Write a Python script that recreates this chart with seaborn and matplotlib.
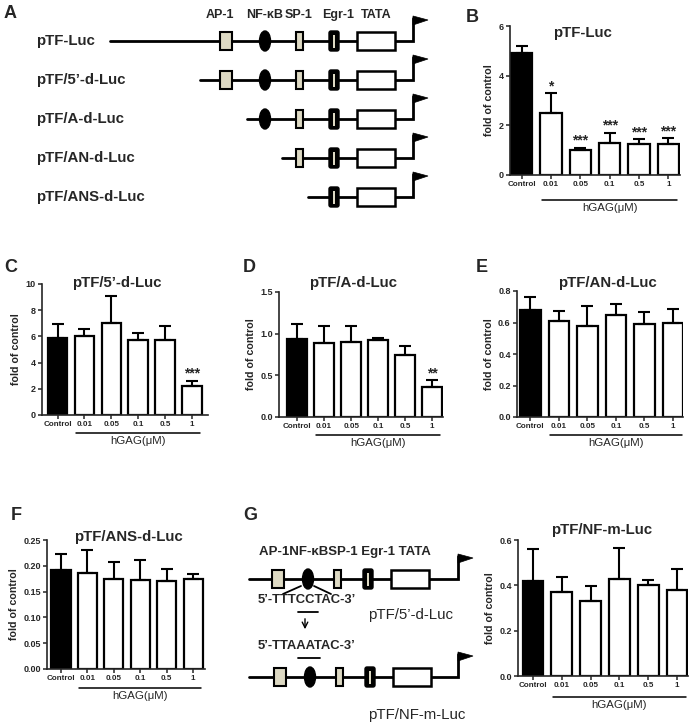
import numpy as np
import pandas as pd
import matplotlib
matplotlib.use("Agg")
import matplotlib.pyplot as plt
import matplotlib.transforms as mtrans
from matplotlib.patches import Rectangle, Ellipse, FancyBboxPatch, Polygon
import seaborn as sns

W, H = 697, 726

# ---- data ----
doses = ["Control", "0.01", "0.05", "0.1", "0.5", "1"]

b_mean = [4.9, 2.5, 1.0, 1.3, 1.25, 1.25]
b_err = [0.3, 0.8, 0.1, 0.4, 0.2, 0.23]
b_sig = ["", "*", "***", "***", "***", "***"]

c_mean = [5.9, 6.0, 7.0, 5.7, 5.75, 2.2]
c_err = [1.05, 0.6, 2.1, 0.55, 1.05, 0.4]
c_sig = ["", "", "", "", "", "***"]

d_mean = [0.93, 0.89, 0.90, 0.92, 0.75, 0.36]
d_err = [0.19, 0.20, 0.19, 0.03, 0.10, 0.08]
d_sig = ["", "", "", "", "", "**"]

e_mean = [0.68, 0.61, 0.575, 0.65, 0.59, 0.595]
e_err = [0.08, 0.06, 0.13, 0.07, 0.075, 0.09]
e_sig = [""] * 6

f_mean = [0.192, 0.186, 0.175, 0.173, 0.170, 0.175]
f_err = [0.030, 0.045, 0.032, 0.039, 0.024, 0.010]
f_sig = [""] * 6

g_mean = [0.42, 0.37, 0.33, 0.43, 0.40, 0.38]
g_err = [0.14, 0.065, 0.065, 0.135, 0.025, 0.09]
g_sig = [""] * 6

a_constructs = ["pTF-Luc", "pTF/5\u2019-d-Luc", "pTF/A-d-Luc", "pTF/AN-d-Luc", "pTF/ANS-d-Luc"]
a_starts = [110, 200, 247, 282, 308]
elements = ["AP-1", "NF-\u03baB", "SP-1", "Egr-1", "TATA"]
a_elem_pos = [226, 265, 299, 334, 376]
g_elem_pos = [278, 308, 337, 368, 410]

seq_wt = "5\u2019-TTTCCTAC-3\u2019"
seq_mut = "5\u2019-TTAAATAC-3\u2019"

# ---- style ----
sns.set_style("ticks")
plt.rcParams["font.family"] = ["Liberation Sans", "DejaVu Sans"]
plt.rcParams["axes.linewidth"] = 1.2

fig = plt.figure(figsize=(W / 100, H / 100), dpi=100)
bg = fig.add_axes([0, 0, 1, 1])
bg.set_xlim(0, W)
bg.set_ylim(H, 0)
bg.axis("off")

beige = "#ddd9c3"


def draw_element(ax, name, x, y):
    if name == "AP-1":
        ax.add_patch(Rectangle((x - 6, y - 9), 12, 18, fc=beige, ec="black", lw=1.5, zorder=3))
    elif name.startswith("NF"):
        ax.add_patch(Ellipse((x, y), 11, 20, fc="black", ec="black", zorder=3))
    elif name == "SP-1":
        ax.add_patch(Rectangle((x - 3.5, y - 9), 7, 18, fc=beige, ec="black", lw=1.5, zorder=3))
    elif name == "Egr-1":
        ax.add_patch(FancyBboxPatch((x - 3.5, y - 8.5), 7, 17, boxstyle="round,pad=1.5,rounding_size=2",
                                    fc="black", ec="black", zorder=3))
        ax.add_patch(Rectangle((x - 1.2, y - 6.5), 2.4, 13, fc=beige, ec="none", zorder=4))
    else:
        ax.add_patch(Rectangle((x - 19, y - 9), 38, 18, fc="white", ec="black", lw=1.8, zorder=3))


def draw_construct(ax, start, end, y, names, pos):
    ax.plot([start, end, end], [y, y, y - 23], color="black", lw=2, zorder=2,
            solid_joinstyle="miter")
    ax.add_patch(Polygon([(end, y - 25), (end + 15, y - 21), (end, y - 16)], closed=True,
                         fc="black", ec="black", lw=0.5, zorder=3))
    for n, p in zip(names, pos):
        if p > start:
            draw_element(ax, n, p, y)


# ---- panel A ----
bg.text(4, 13, "A", fontsize=13, fontweight="bold", va="center")
for n, p in zip(elements, a_elem_pos):
    bg.text(p - 6 if n == "AP-1" else p + (4 if n == "Egr-1" else 0), 15, n,
            fontsize=9, fontweight="bold", ha="center", va="center")
for i, (lab, st) in enumerate(zip(a_constructs, a_starts)):
    y = 41 + 39 * i
    bg.text(36, y, lab, fontsize=10.8, fontweight="bold", va="center")
    draw_construct(bg, st, 413, y, elements, a_elem_pos)

# ---- panel G diagram ----
bg.text(243, 515, "G", fontsize=13, fontweight="bold", va="center")
bg.text(259, 552, "AP-1NF-\u03baBSP-1 Egr-1 TATA", fontsize=9.5, fontweight="bold", va="center")
draw_construct(bg, 249, 458, 579, elements, g_elem_pos)
draw_construct(bg, 249, 458, 677, elements, [p + 2 for p in g_elem_pos])
bg.plot([283, 301], [594, 586], color="black", lw=1.3)
bg.plot([314, 331], [586, 594], color="black", lw=1.3)
bg.text(258, 600, seq_wt, fontsize=9.4, fontweight="bold", va="center")
bg.plot([298, 318], [612, 612], color="black", lw=1.3)
bg.annotate("", xy=(305, 632), xytext=(305, 616),
            arrowprops=dict(arrowstyle="->", color="black", lw=1.0))
bg.text(258, 646, seq_mut, fontsize=9.4, fontweight="bold", va="center")
bg.plot([298, 320], [658, 658], color="black", lw=1.3)
bg.text(368, 615, "pTF/5\u2019-d-Luc", fontsize=10.8, va="center")
bg.text(368, 715, "pTF/NF-m-Luc", fontsize=10.8, va="center")

# ---- bar panels ----
panels = [
    dict(letter="B", lpos=(466, 18), title="pTF-Luc", tpos=(582, 33), mean=b_mean, err=b_err, sig=b_sig,
         ylim=6, yticks=[0, 2, 4, 6], fmt="{:.0f}", box=(510, 680, 26, 175), xlim=(-0.4, 5.4), ul=25),
    dict(letter="C", lpos=(4, 268), title="pTF/5\u2019-d-Luc", tpos=(117, 283), mean=c_mean, err=c_err, sig=c_sig,
         ylim=10, yticks=[0, 2, 4, 6, 8, 10], fmt="{:.0f}", box=(42, 208, 284, 415), xlim=(-0.58, 5.6), ul=18),
    dict(letter="D", lpos=(243, 268), title="pTF/A-d-Luc", tpos=(353, 283), mean=d_mean, err=d_err, sig=d_sig,
         ylim=1.5, yticks=[0, 0.5, 1.0, 1.5], fmt="{:.1f}", box=(279, 443, 292, 417), xlim=(-0.67, 5.4), ul=18),
    dict(letter="E", lpos=(476, 268), title="pTF/AN-d-Luc", tpos=(607, 283), mean=e_mean, err=e_err, sig=e_sig,
         ylim=0.8, yticks=[0, 0.2, 0.4, 0.6, 0.8], fmt="{:.1f}", box=(517, 683, 291, 417), xlim=(-0.47, 5.35), ul=18),
    dict(letter="F", lpos=(11, 515), title="pTF/ANS-d-Luc", tpos=(128, 537), mean=f_mean, err=f_err, sig=f_sig,
         ylim=0.25, yticks=[0, 0.05, 0.10, 0.15, 0.20, 0.25], fmt="{:.2f}", box=(47, 205, 540, 669), xlim=(-0.53, 5.45), ul=19),
    dict(letter=None, lpos=None, title="pTF/NF-m-Luc", tpos=(602, 530), mean=g_mean, err=g_err, sig=g_sig,
         ylim=0.6, yticks=[0, 0.2, 0.4, 0.6], fmt="{:.1f}", box=(518, 688, 540, 676), xlim=(-0.52, 5.38), ul=21),
]

colors = ["black"] + ["white"] * 5

for p in panels:
    x0, x1, yt, yb = p["box"]
    ax = fig.add_axes([x0 / W, 1 - yb / H, (x1 - x0) / W, (yb - yt) / H])
    ax.patch.set_alpha(0)
    df = pd.DataFrame({"dose": doses, "value": p["mean"]})
    sns.barplot(data=df, x="dose", y="value", hue="dose", palette=colors, legend=False,
                width=0.72, edgecolor="black", linewidth=1.6, errorbar=None, ax=ax)
    xs = np.arange(len(doses))
    ax.errorbar(xs, p["mean"], yerr=[np.zeros(len(xs)), p["err"]], fmt="none",
                ecolor="black", elinewidth=1.5, capsize=4.5, capthick=1.5, zorder=1)
    for x, m, e, s in zip(xs, p["mean"], p["err"], p["sig"]):
        if s:
            ax.annotate(s, (x, m + e), xytext=(0, 0), textcoords="offset points",
                        ha="center", va="bottom", fontsize=10, fontweight="bold")
    ax.set_xlim(*p["xlim"])
    ax.set_ylim(0, p["ylim"])
    ax.set_yticks(p["yticks"])
    ax.set_yticklabels([p["fmt"].format(v) for v in p["yticks"]], fontsize=6.5, fontweight="bold")
    ax.set_xticks(xs)
    ax.set_xticklabels(doses, fontsize=5.8, fontweight="bold")
    ax.tick_params(axis="both", length=3, width=1.1, pad=1.5)
    ax.set_xlabel("")
    ax.set_ylabel("fold of control", fontsize=7.7, fontweight="bold", labelpad=3)
    sns.despine(ax=ax)
    # hGAG underline
    hpx = yb - yt
    tr = mtrans.blended_transform_factory(ax.transData, ax.transAxes)
    uy = -p["ul"] / hpx
    ax.plot([0.7, 5.3], [uy, uy], color="black", lw=1.1, transform=tr, clip_on=False)
    ax.text(3.0, uy - 3 / hpx, "hGAG(\u03bcM)", transform=tr, ha="center", va="top", fontsize=8.2)
    # title and letter
    bg.text(p["tpos"][0], p["tpos"][1], p["title"], fontsize=10.8, fontweight="bold", ha="center", va="center")
    if p["letter"]:
        bg.text(p["lpos"][0], p["lpos"][1], p["letter"], fontsize=13, fontweight="bold", va="center")

fig.savefig("out.png", dpi=100)
